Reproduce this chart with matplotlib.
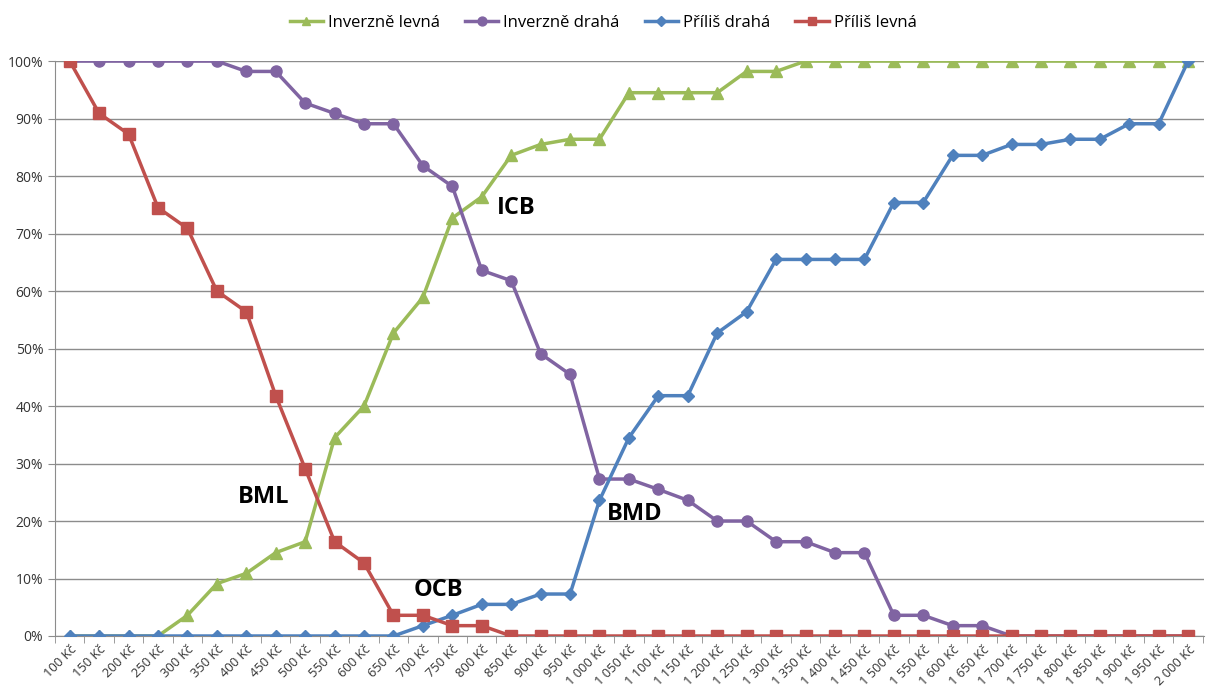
import matplotlib.pyplot as plt
from matplotlib.ticker import PercentFormatter, FixedLocator, NullFormatter

# price levels (Kč)
prices = list(range(100, 2001, 50))
price_labels = []
for p in prices:
    if p >= 1000:
        price_labels.append("%d %03d Kč" % (p // 1000, p % 1000))
    else:
        price_labels.append("%d Kč" % p)

# cumulative shares of respondents, in %
inverzne_levna = [0, 0, 0, 0, 3.6, 9.1, 10.9, 14.5, 16.4, 34.5, 40.0, 52.7, 58.9,
                  72.7, 76.4, 83.6, 85.5, 86.4, 86.4, 94.5, 94.5, 94.5, 94.5, 98.2,
                  98.2, 100, 100, 100, 100, 100, 100, 100, 100, 100, 100, 100, 100,
                  100, 100]
inverzne_draha = [100, 100, 100, 100, 100, 100, 98.2, 98.2, 92.7, 90.9, 89.1, 89.1,
                  81.8, 78.2, 63.6, 61.8, 49.1, 45.5, 27.3, 27.3, 25.5, 23.6, 20.0,
                  20.0, 16.4, 16.4, 14.5, 14.5, 3.6, 3.6, 1.8, 1.8, 0, 0, 0, 0, 0,
                  0, 0]
prilis_draha = [0, 0, 0, 0, 0, 0, 0, 0, 0, 0, 0, 0, 1.8, 3.6, 5.5, 5.5, 7.3, 7.3,
                23.6, 34.5, 41.8, 41.8, 52.7, 56.4, 65.5, 65.5, 65.5, 65.5, 75.4,
                75.4, 83.6, 83.6, 85.5, 85.5, 86.4, 86.4, 89.1, 89.1, 100]
prilis_levna = [100, 90.9, 87.3, 74.5, 70.9, 60.0, 56.4, 41.8, 29.1, 16.4, 12.7,
                3.6, 3.6, 1.8, 1.8, 0, 0, 0, 0, 0, 0, 0, 0, 0, 0, 0, 0, 0, 0, 0,
                0, 0, 0, 0, 0, 0, 0, 0, 0]

green = "#9bbb59"
purple = "#8064a2"
blue = "#4f81bd"
red = "#c0504d"

fig = plt.figure(figsize=(12.06, 6.91), dpi=100)
ax = fig.add_axes([0.0456, 0.0796, 0.953, 0.832])

x = list(range(len(prices)))
ax.plot(x, inverzne_levna, color=green, lw=2.5, marker="^", ms=8, label="Inverzně levná", zorder=3)
ax.plot(x, inverzne_draha, color=purple, lw=2.5, marker="o", ms=8, label="Inverzně drahá", zorder=3)
ax.plot(x, prilis_draha, color=blue, lw=2.5, marker="D", ms=6, label="Příliš drahá", zorder=4)
ax.plot(x, prilis_levna, color=red, lw=2.5, marker="s", ms=8, label="Příliš levná", zorder=5)

ax.set_xlim(-0.5, len(prices) - 0.45)
ax.set_ylim(0, 100)
ax.set_yticks(range(0, 101, 10))
ax.yaxis.set_major_formatter(PercentFormatter(decimals=0))
ax.grid(axis="y", color="#8c8c8c", lw=1)
ax.set_axisbelow(True)

# category labels at centres, tick marks between categories
ax.set_xticks(x)
ax.set_xticklabels(price_labels, rotation=45, ha="right", rotation_mode="anchor",
                   fontsize=9.3, color="#333333", family="Open Sans")
ax.tick_params(axis="x", which="major", length=0, pad=5)
ax.xaxis.set_minor_locator(FixedLocator([i - 0.5 for i in range(len(prices) + 1)]))
ax.xaxis.set_minor_formatter(NullFormatter())
ax.tick_params(axis="x", which="minor", length=5, color="#8c8c8c")
ax.tick_params(axis="y", length=5, color="#8c8c8c", labelsize=10, labelcolor="#333333")
for lbl in ax.get_yticklabels():
    lbl.set_family("Open Sans")

for side in ["top", "right"]:
    ax.spines[side].set_visible(False)
ax.spines["left"].set_color("#8c8c8c")
ax.spines["bottom"].set_color("#8c8c8c")

# names of the intersection points
lbl_style = dict(fontsize=17, fontweight="bold", family="Open Sans", color="black",
                 ha="center", va="center")
ax.text(6.59, 24.2, "BML", **lbl_style)
ax.text(15.18, 74.4, "ICB", **lbl_style)
ax.text(12.53, 8.0, "OCB", **lbl_style)
ax.text(19.19, 21.2, "BMD", **lbl_style)

fig.legend(loc="upper center", bbox_to_anchor=(0.5, 1.0), ncol=4, frameon=False,
           prop={"family": "Open Sans", "size": 12}, handlelength=2.0,
           handletextpad=0.3, columnspacing=1.5, markerscale=0.8)

plt.savefig("out.png", dpi=100)
